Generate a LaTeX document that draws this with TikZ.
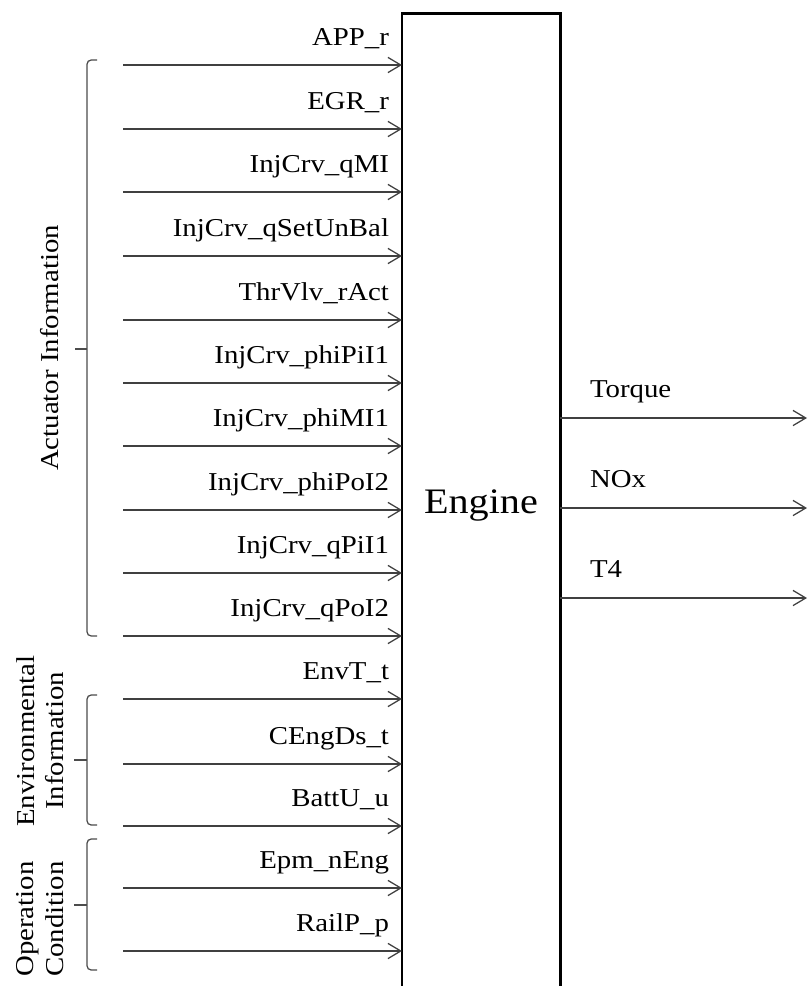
\documentclass[tikz,border=0pt]{standalone}
\usepackage{fontspec}
\setmainfont{Liberation Serif}[FakeStretch=1.12]
\usetikzlibrary{arrows.meta,positioning}

\begin{document}
\begin{tikzpicture}[
    x=0.025cm, y=-0.025cm,
    every node/.style={inner sep=0pt, outer sep=0pt},
    sig/.style={draw=black!75, line width=0.9pt, -{Straight Barb[length=3.2mm, width=3.8mm]}},
    sigtext/.style={font=\fontsize{18.3}{20}\selectfont},
    block/.style={draw, line width=2.1pt, minimum width=3.95cm, minimum height=24.55cm, font=\fontsize{25.5}{28}\selectfont},
    grp/.style={draw=black!70, line width=0.9pt, rounded corners=3pt},
    grptext/.style={rotate=90, align=center, font=\fontsize{18.3}{21}\selectfont}
]
\useasboundingbox (0,0) rectangle (808,986);

\node[block] (engine) at (481,505) {Engine};

% inputs on the left
\foreach \y/\nm/\lbl in {65/app/APP\_r, 129/egr/EGR\_r, 192/qmi/InjCrv\_qMI,
    256/qset/InjCrv\_qSetUnBal, 320/thr/ThrVlv\_rAct, 383/phipi/InjCrv\_phiPiI1,
    446/phimi/InjCrv\_phiMI1, 510/phipo/InjCrv\_phiPoI2, 573/qpi/InjCrv\_qPiI1,
    636/qpo/InjCrv\_qPoI2, 699/envt/EnvT\_t, 764/ceng/CEngDs\_t,
    826/batt/BattU\_u, 888/neng/Epm\_nEng, 951/rail/RailP\_p} {
  \coordinate (\nm) at (123,\y);
  \node[sigtext, anchor=base east] (\nm-lbl) at (389,\y-20) {\lbl};
  \draw[sig] (\nm) -- (engine.west |- \nm);
}

% outputs on the right
\foreach \y/\nm/\lbl in {418/torque/Torque, 508/nox/NOx, 598/tfour/T4} {
  \coordinate (\nm) at (807,\y);
  \node[sigtext, anchor=base west] (\nm-lbl) at (590,\y-21) {\lbl};
  \draw[sig] (engine.east |- \nm) -- (\nm);
}

% groups
\draw[grp] (97,60) -| (87,636) -- (97,636);
\draw[grp, rounded corners=0pt] (87,349) -- (75,349);
\node[grptext] (act) at (50,348) {Actuator Information};

\draw[grp] (97,695) -| (87,825) -- (97,825);
\draw[grp, rounded corners=0pt] (87,760) -- (74,760);
\node[grptext] (env) at (40,741) {Environmental\\Information};

\draw[grp] (97,839) -| (87,970) -- (97,970);
\draw[grp, rounded corners=0pt] (87,905) -- (74,905);
\node[grptext] (op) at (40,919) {Operation\\Condition};

\end{tikzpicture}
\end{document}
